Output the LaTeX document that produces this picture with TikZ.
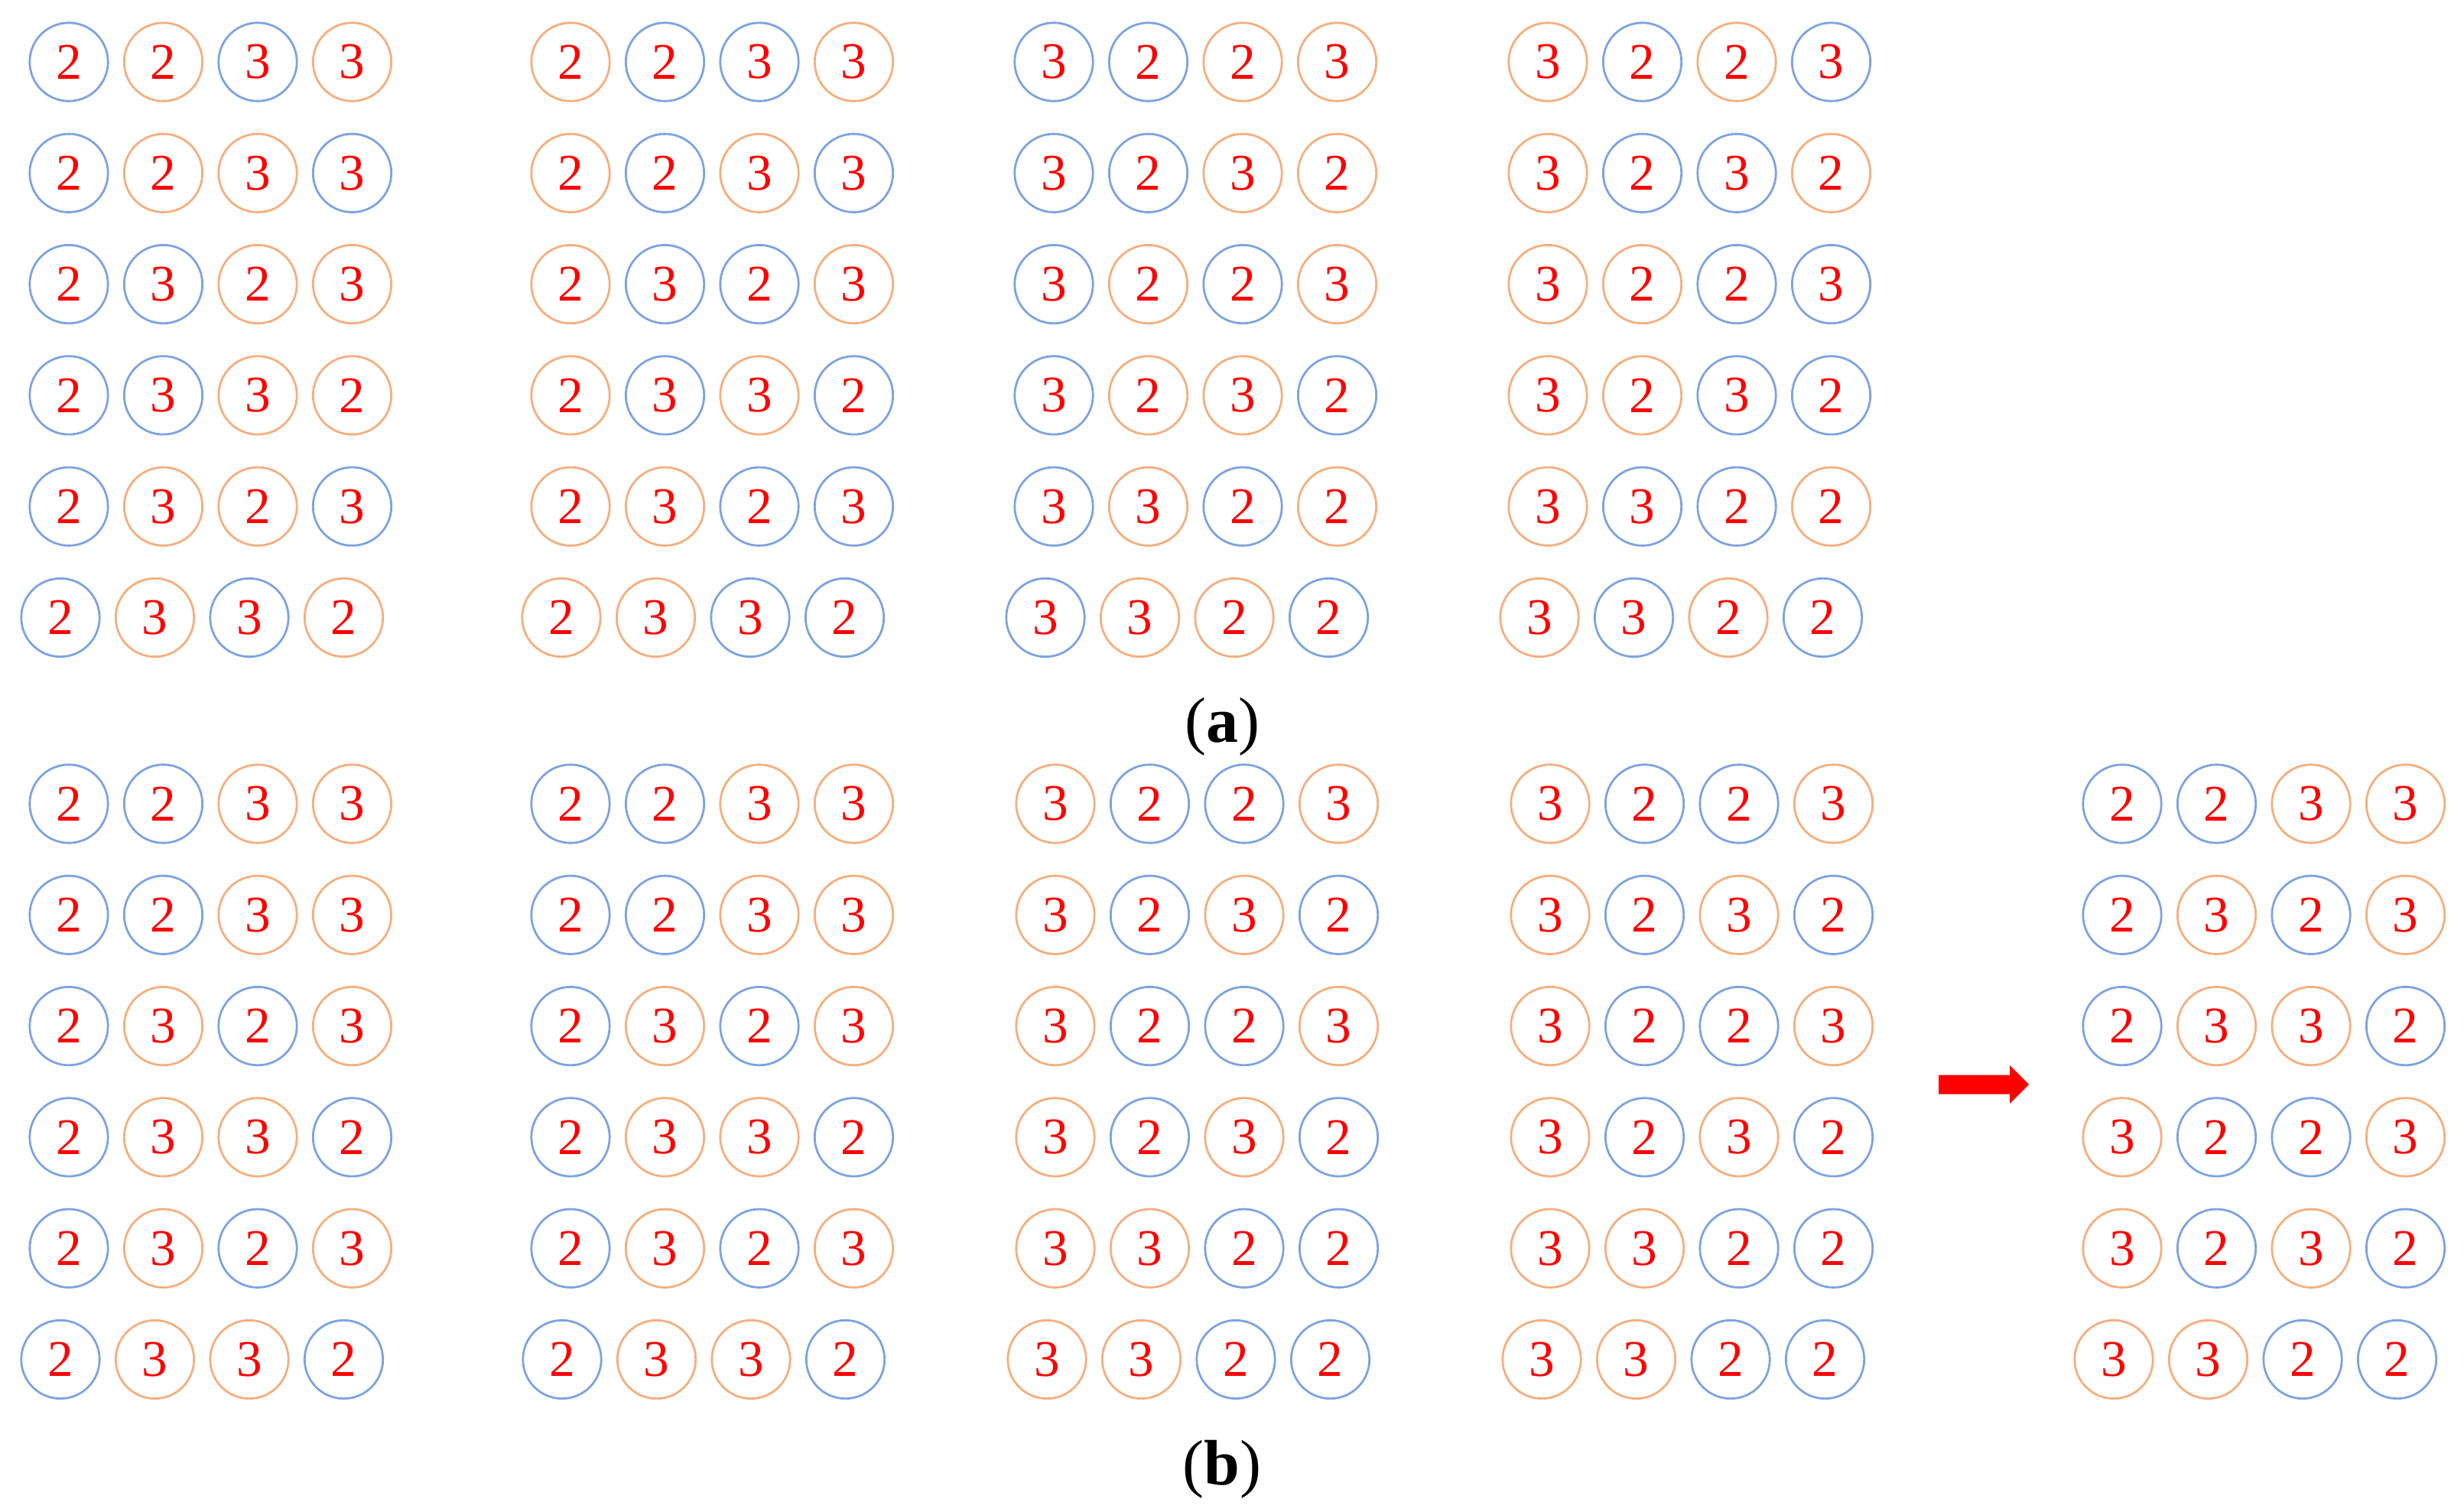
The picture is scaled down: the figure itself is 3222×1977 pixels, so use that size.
\documentclass[tikz,border=0pt]{standalone}
\usepackage{fontspec}
\setmainfont{Liberation Serif}
\definecolor{bring}{RGB}{125,163,224}
\definecolor{oring}{RGB}{246,174,126}
\tikzset{
  disc/.style={circle, draw=#1ring, line width=0.7pt, minimum size=25.6pt, inner sep=0pt,
    text=red, font=\fontsize{16.8pt}{20pt}\selectfont},
  caption/.style={inner sep=0pt, font=\fontsize{21pt}{25pt}\selectfont}
}
% name, x0, y, list of digit/colour
\newcommand{\crow}[4]{%
  \foreach \d/\cc [count=\i] in {#4} {
    \node[disc=\cc] (#1-\i) at ({#2+123.5*(\i-1)},#3) {\d};
  }%
}
% name, x0, y0, rows 1..5
\newcommand{\grp}[8]{%
  \crow{#1-r1}{#2}{#3}{#4}%
  \crow{#1-r2}{#2}{#3+145.3}{#5}%
  \crow{#1-r3}{#2}{#3+290.6}{#6}%
  \crow{#1-r4}{#2}{#3+435.9}{#7}%
  \crow{#1-r5}{#2}{#3+581.2}{#8}%
}
% name, x0 of last row, y0, row 6
\newcommand{\grplast}[4]{\crow{#1-r6}{#2}{#3+726.5}{#4}}
\begin{document}
\begin{tikzpicture}[x=0.25pt, y=-0.25pt]
\useasboundingbox (0,0) rectangle (3222,1977);
% ---------- (a) ----------
\grp{a1}{90}{81}{2/b,2/o,3/b,3/o}{2/b,2/o,3/o,3/b}{2/b,3/b,2/o,3/o}{2/b,3/b,3/o,2/o}{2/b,3/o,2/o,3/b}
\grplast{a1}{79}{81}{2/b,3/o,3/b,2/o}
\grp{a2}{746}{81}{2/o,2/b,3/b,3/o}{2/o,2/b,3/o,3/b}{2/o,3/b,2/b,3/o}{2/o,3/b,3/o,2/b}{2/o,3/o,2/b,3/b}
\grplast{a2}{734}{81}{2/o,3/o,3/b,2/b}
\grp{a3}{1378}{81}{3/b,2/b,2/o,3/o}{3/b,2/b,3/o,2/o}{3/b,2/o,2/b,3/o}{3/b,2/o,3/o,2/b}{3/b,3/o,2/b,2/o}
\grplast{a3}{1367}{81}{3/b,3/o,2/o,2/b}
\grp{a4}{2024}{81}{3/o,2/b,2/o,3/b}{3/o,2/b,3/b,2/o}{3/o,2/o,2/b,3/b}{3/o,2/o,3/b,2/b}{3/o,3/b,2/b,2/o}
\grplast{a4}{2013}{81}{3/o,3/b,2/o,2/b}
\node[caption] (capa) at (1598,950) {(\textbf{a})};
% ---------- (b) ----------
\grp{b1}{90}{1051}{2/b,2/b,3/o,3/o}{2/b,2/b,3/o,3/o}{2/b,3/o,2/b,3/o}{2/b,3/o,3/o,2/b}{2/b,3/o,2/b,3/o}
\grplast{b1}{79}{1051}{2/b,3/o,3/o,2/b}
\grp{b2}{746}{1051}{2/b,2/b,3/o,3/o}{2/b,2/b,3/o,3/o}{2/b,3/o,2/b,3/o}{2/b,3/o,3/o,2/b}{2/b,3/o,2/b,3/o}
\grplast{b2}{735}{1051}{2/b,3/o,3/o,2/b}
\grp{b3}{1380}{1051}{3/o,2/b,2/b,3/o}{3/o,2/b,3/o,2/b}{3/o,2/b,2/b,3/o}{3/o,2/b,3/o,2/b}{3/o,3/o,2/b,2/b}
\grplast{b3}{1369}{1051}{3/o,3/o,2/b,2/b}
\grp{b4}{2027}{1051}{3/o,2/b,2/b,3/o}{3/o,2/b,3/o,2/b}{3/o,2/b,2/b,3/o}{3/o,2/b,3/o,2/b}{3/o,3/o,2/b,2/b}
\grplast{b4}{2016}{1051}{3/o,3/o,2/b,2/b}
\grp{b5}{2775}{1051}{2/b,2/b,3/o,3/o}{2/b,3/o,2/b,3/o}{2/b,3/o,3/o,2/b}{3/o,2/b,2/b,3/o}{3/o,2/b,3/o,2/b}
\grplast{b5}{2764}{1051}{3/o,3/o,2/b,2/b}
% block arrow
\fill[red] (2535,1405.5) -- (2628,1405.5) -- (2628,1393) -- (2653,1418) -- (2628,1443) -- (2628,1430.5) -- (2535,1430.5) -- cycle;
\node[caption] (capb) at (1598,1921) {(\textbf{b})};
\end{tikzpicture}
\end{document}
